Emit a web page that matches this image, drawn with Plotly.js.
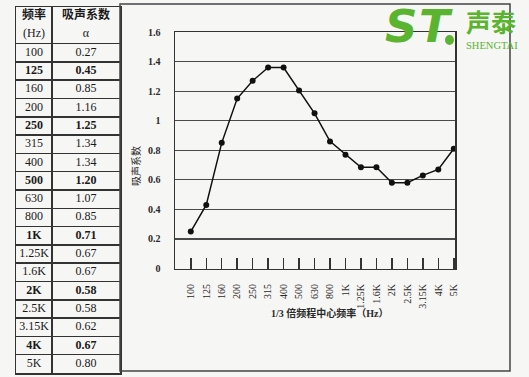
<!DOCTYPE html>
<html>
<head>
<meta charset="utf-8">
<script src="https://cdn.plot.ly/plotly-3.0.1.min.js"></script>
<style>
  html, body { margin: 0; padding: 0; background: #f6f6f4; }
  #chart { width: 529px; height: 377px; }
</style>
</head>
<body>
<div id="chart"></div>
<script>
// ---- data ----
const freqLabels = ['100','125','160','200','250','315','400','500','630','800','1K','1.25K','1.6K','2K','2.5K','3.15K','4K','5K'];
const tableAlpha = ['0.27','0.45','0.85','1.16','1.25','1.34','1.34','1.20','1.07','0.85','0.71','0.67','0.67','0.58','0.58','0.62','0.67','0.80'];
const plottedAlpha = [0.25,0.43,0.85,1.15,1.27,1.36,1.36,1.205,1.05,0.86,0.77,0.685,0.685,0.58,0.58,0.63,0.67,0.81];
const boldRows = ['125','250','500','1K','2K','4K'];
const yTickVals = [0,0.2,0.4,0.6,0.8,1,1.2,1.4,1.6];
const yTickText = ['0','0.2','0.4','0.6','0.8','1','1.2','1.4','1.6'];
const headerFreq = ['频率', '(Hz)'];
const headerAlpha = ['吸声系数', 'α'];

// ---- helpers (pixel -> paper) ----
const W = 529, H = 377;
const px = v => v / W;
const py = v => 1 - v / H;

const bg = '#f6f6f4';
const ink = '#2a2a2a';
const green = '#5ab42f';
const serif = "'Liberation Serif', 'Noto Sans CJK SC', serif";

// ---- table built on its own pair of axes ----
const colWidths = [36, 68];
const colCenters = [colWidths[0] / 2, colWidths[0] + colWidths[1] / 2];
const nRows = freqLabels.length;
const wrapBold = (on, s) => on ? '<b>' + s + '</b>' : s;

const tabX = [], tabY = [], tabText = [];
// header: two lines per column, first line bold
[headerFreq, headerAlpha].forEach((col, c) => {
  col.forEach((s, r) => {
    tabX.push(colCenters[c]);
    tabY.push(r - 2);
    tabText.push(wrapBold(r === 0, s));
  });
});
freqLabels.forEach((f, i) => {
  const b = boldRows.includes(f);
  tabX.push(colCenters[0]); tabY.push(i); tabText.push(wrapBold(b, f));
  tabX.push(colCenters[1]); tabY.push(i); tabText.push(wrapBold(b, tableAlpha[i]));
});
const rowLines = [-0.5];
for (let i = 0; i < nRows - 1; i++) rowLines.push(i + 0.5);

const traces = [
  {
    type: 'scatter',
    mode: 'text',
    xaxis: 'x2', yaxis: 'y2',
    x: tabX, y: tabY, text: tabText,
    textposition: 'middle center',
    textfont: { family: serif, size: 12, color: '#1a1a1a' },
    hoverinfo: 'skip',
    cliponaxis: false
  },
  {
    type: 'scatter',
    mode: 'lines+markers',
    x: freqLabels,
    y: plottedAlpha,
    line: { color: '#111', width: 1.5 },
    marker: { color: '#111', size: 6 },
    cliponaxis: false,
    hoverinfo: 'x+y'
  }
];

const layout = {
  width: W, height: H,
  margin: { l: 0, r: 0, t: 0, b: 0 },
  paper_bgcolor: bg,
  plot_bgcolor: bg,
  showlegend: false,
  xaxis: {
    type: 'category',
    domain: [px(175), px(455)],
    range: [-1.02, 17.08],
    showgrid: false, zeroline: false,
    showline: true, mirror: true, linecolor: '#333', linewidth: 1.5,
    ticks: 'inside', ticklen: 11, tickwidth: 1.5, tickcolor: '#333',
    tickangle: -90,
    ticklabelstandoff: 10,
    tickfont: { family: serif, size: 10, color: ink }
  },
  yaxis: {
    domain: [py(268.5), py(32)],
    range: [0, 1.6],
    tickvals: yTickVals, ticktext: yTickText,
    showgrid: true, gridcolor: '#4a4a4a', gridwidth: 1.2,
    zeroline: false,
    showline: true, mirror: true, linecolor: '#333', linewidth: 1.5,
    ticks: '', ticklabelstandoff: 11,
    tickfont: { family: serif, size: 10, color: ink, weight: 'bold' }
  },
  xaxis2: {
    anchor: 'y2',
    domain: [px(16), px(120)],
    range: [0, colWidths[0] + colWidths[1]],
    tickvals: [colWidths[0]],
    showticklabels: false, ticks: '',
    showgrid: true, gridcolor: '#333', gridwidth: 1.5,
    zeroline: false,
    showline: true, mirror: true, linecolor: '#333', linewidth: 1.5
  },
  yaxis2: {
    anchor: 'x2',
    domain: [py(373), py(7)],
    range: [nRows - 0.5, -2.5],
    tickvals: rowLines,
    showticklabels: false, ticks: '',
    showgrid: true, gridcolor: '#333', gridwidth: 1.5,
    zeroline: false,
    showline: true, mirror: true, linecolor: '#333', linewidth: 1.5
  },
  shapes: [
    { type: 'rect', xref: 'paper', yref: 'paper',
      x0: px(120), x1: px(510), y0: py(371), y1: py(4),
      line: { color: '#444', width: 1.5 } },
    { type: 'circle', xref: 'paper', yref: 'paper',
      x0: px(445), x1: px(454), y0: py(45), y1: py(35),
      fillcolor: green, line: { width: 0 } }
  ],
  annotations: [
    { text: '<b>1/3 倍频程中心频率（Hz）</b>', xref: 'paper', yref: 'paper',
      x: px(330), y: py(313), xanchor: 'center', yanchor: 'middle', showarrow: false,
      font: { family: serif, size: 10, color: ink } },
    { text: '吸声系数', xref: 'paper', yref: 'paper', textangle: -90,
      x: px(135), y: py(166), xanchor: 'center', yanchor: 'middle', showarrow: false,
      font: { family: 'Noto Sans CJK SC', size: 10, color: ink } },
    { text: '<b><i>S</i></b>', xref: 'paper', yref: 'paper',
      x: px(383), y: py(26), xanchor: 'left', yanchor: 'middle', showarrow: false,
      font: { family: 'DejaVu Sans', size: 45, color: green } },
    { text: '<b><i>T</i></b>', xref: 'paper', yref: 'paper',
      x: px(455), y: py(26), xanchor: 'right', yanchor: 'middle', showarrow: false,
      font: { family: 'DejaVu Sans', size: 45, color: green } },
    { text: '<b>声泰</b>', xref: 'paper', yref: 'paper',
      x: px(464), y: py(21), xanchor: 'left', yanchor: 'middle', showarrow: false,
      font: { family: 'Noto Sans CJK SC', size: 25, color: green } },
    { text: 'SHENGTAI', xref: 'paper', yref: 'paper',
      x: px(464), y: py(45), xanchor: 'left', yanchor: 'middle', showarrow: false,
      font: { family: 'Liberation Serif', size: 10.5, color: green } }
  ]
};

Plotly.newPlot('chart', traces, layout, { displayModeBar: false, staticPlot: true });
</script>
</body>
</html>
